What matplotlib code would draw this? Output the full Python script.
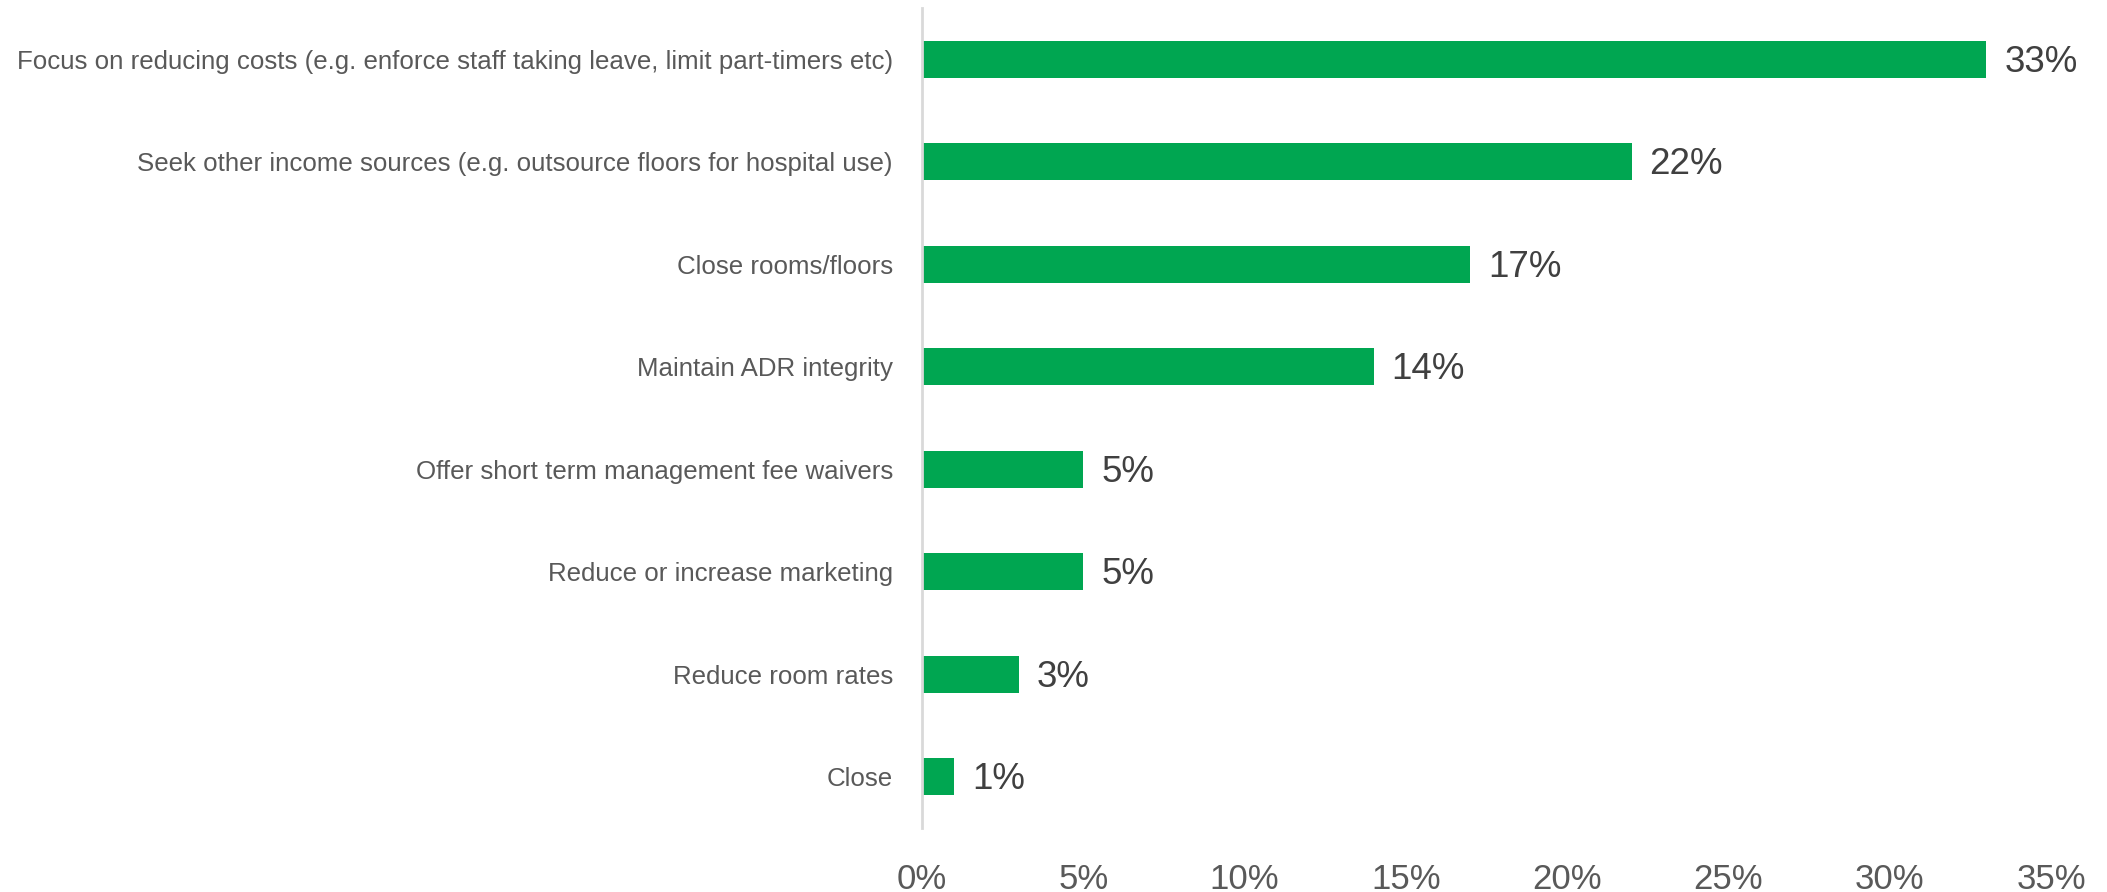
import matplotlib
matplotlib.use("Agg")
import matplotlib.pyplot as plt
from matplotlib.ticker import PercentFormatter

# survey responses, top to bottom
categories = [
    "Focus on reducing costs (e.g. enforce staff taking leave, limit part-timers etc)",
    "Seek other income sources (e.g. outsource floors for hospital use)",
    "Close rooms/floors",
    "Maintain ADR integrity",
    "Offer short term management fee waivers",
    "Reduce or increase marketing",
    "Reduce room rates",
    "Close",
]
shares = [33, 22, 17, 14, 5, 5, 3, 1]
xticks = [0, 5, 10, 15, 20, 25, 30, 35]

GREEN = "#00a651"
FONT = "Liberation Sans"

fig = plt.figure(figsize=(21.07, 8.92), dpi=100)
ax = fig.add_axes([922/2107, 1-828/892, 1129/2107, 820/892])

ypos = list(range(len(categories)))
ax.barh(ypos, shares, height=0.36, color=GREEN)
ax.set_ylim(len(categories) - 0.5, -0.5)
ax.set_xlim(0, 35)

for y, v in zip(ypos, shares):
    ax.text(v + 0.55, y + 0.03, f"{v}%", va="center", ha="left", fontsize=26.5,
            color="#404040", family=FONT)

ax.set_yticks(ypos)
ax.set_yticklabels(categories, family=FONT, fontsize=18.6, color="#595959")
ax.set_xticks(xticks)
ax.xaxis.set_major_formatter(PercentFormatter(decimals=0))
for lab in ax.get_xticklabels():
    lab.set_family(FONT)
    lab.set_fontsize(25)
    lab.set_color("#595959")
ax.tick_params(axis="y", length=0, pad=21)
ax.tick_params(axis="x", length=0, pad=25)

for s in ["top", "right", "bottom"]:
    ax.spines[s].set_visible(False)
ax.spines["left"].set_color("#d9d9d9")
ax.spines["left"].set_linewidth(2)

fig.savefig("out.png", dpi=100)
